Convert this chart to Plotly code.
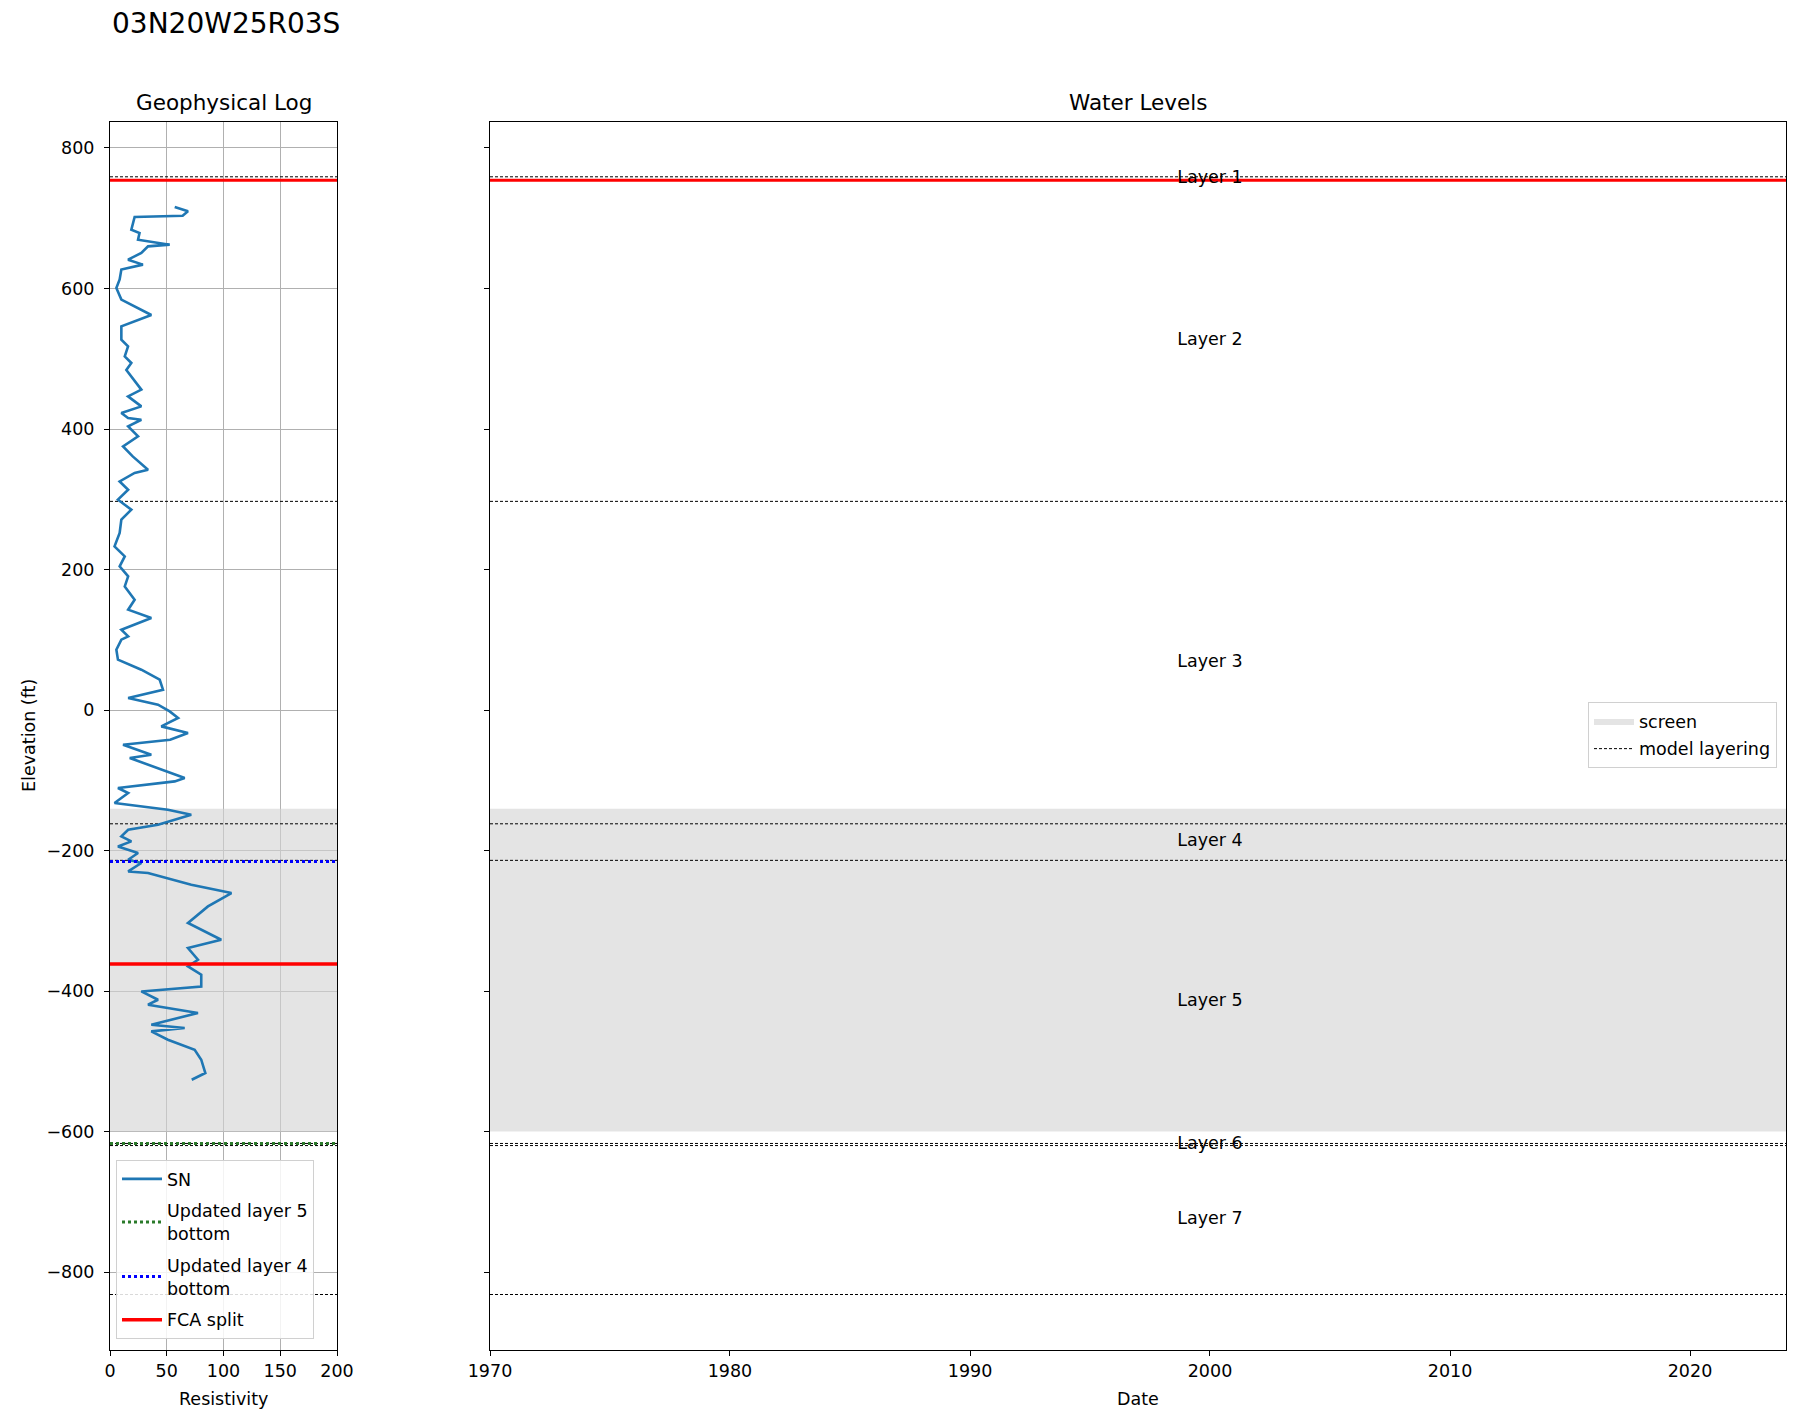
import plotly.graph_objects as go

# ---------------- data ----------------
well_name = "03N20W25R03S"

# SN resistivity log (elevation ft, resistivity)
sn_elev = [716.0, 709.8, 703.6, 701.8, 683.7, 679.0, 669.5, 662.4, 660.0, 650.5,
           641.0, 634.0, 627.0, 612.8, 600.7, 584.2, 562.3, 546.1, 527.2, 517.6,
           503.4, 494.0, 484.0, 456.0, 446.4, 432.2, 422.8, 415.7,
           413.2, 403.7, 389.5, 375.2, 361.0, 342.1, 337.4, 325.4, 313.6, 299.4,
           285.2, 270.9, 252.0, 232.9, 218.6, 204.4, 190.2, 175.9, 157.0, 142.8,
           131.0, 114.3, 104.8,
           100.1, 85.8, 71.6, 57.4, 43.1, 28.9, 17.1, 7.5, -2.0, -11.4, -23.3,
           -32.7, -42.3, -49.4, -63.6, -68.3, -82.6, -92.1, -96.8, -101.6, -111.0,
           -118.1, -132.4, -141.9, -149.0, -163.3, -170.4, -179.9, -187.0, -194.2,
           -203.6, -213.1,
           -217.8, -229.8, -232.0, -248.7, -260.5, -279.6, -303.2, -327.0, -338.8,
           -355.5, -365.0, -376.8, -393.5, -400.6, -412.4, -419.5, -431.3, -448.0,
           -452.7, -457.5, -469.3, -483.6, -497.8, -516.7, -523.4, -526.3]
sn_res = [57, 68.7, 64, 21.7, 18.8, 26, 24.7, 52.6, 33.5, 27.6,
          15.9, 29, 10, 8.5, 5.6, 10, 36.4, 10, 10, 15.9,
          13, 18.8, 14.4, 27.6, 15.9, 27.6, 10, 15.9,
          27.6, 16, 24.7, 11.5, 20, 33.5, 21.7, 8.5, 16, 7,
          18.8, 10, 8.5, 4, 13, 8.5, 16, 13, 21.7, 16,
          36.4, 10, 16,
          10, 5.6, 7, 27.6, 43.8, 46.7, 16, 42.3, 52.6, 60, 45.2,
          68.7, 53, 11.5, 36.4, 17.4, 42.3, 57, 65.8, 57, 7,
          16, 4, 51, 71.6, 42.3, 16, 10, 18.8, 7,
          24.7, 16,
          27.6, 16, 33.5, 71.6, 107, 86.3, 68.7, 98, 68.7,
          77.5, 68.7, 80.4, 80.4, 27.6, 42.3, 33.5, 77.5, 36.4,
          65.8, 36.4, 51, 74.6, 80.4, 84, 75, 72]

# model layer surfaces (elevation, ft)
layer_surfaces = [759, 755, 297, -162, -214, -617, -620, -832]
layer_names = ["Layer 1", "Layer 2", "Layer 3", "Layer 4", "Layer 5", "Layer 6", "Layer 7"]

screen_top = -140.5
screen_bottom = -600.0

updated_layer4_bottom = -215.5
updated_layer5_bottom = -617.0
fca_split = -361.6
top_red = 754.0

res_range = [0, 200]
res_ticks = [0, 50, 100, 150, 200]
date_start = "1970-01-01"
date_end = "2024-01-01"
label_date = "2000-01-01"
elev_range = [-911, 837]
elev_ticks = [-800, -600, -400, -200, 0, 200, 400, 600, 800]

# ---------------- layout geometry (pixels in the screenshot) ----------------
OFF = 8                      # default page body margin
W, H = 1795 - OFF, 1416 - OFF
PL, PR, PT, PB = 110, 1786, 122, 1350          # overall plot area (screen px)
PW, PH = PR - PL, PB - PT
LEFT_X1 = 337
RIGHT_X0 = 490

def px(xp):
    return (xp - PL) / PW

def py(yp):
    return 1 - (yp - PT) / PH

FONT = "DejaVu Sans"
FS = 17.5
fig = go.Figure()

def hlines(xa, xb, ys):
    xs, yy = [], []
    for y in ys:
        xs += [xa, xb, None]
        yy += [y, y, None]
    return xs, yy

# --- left panel ---
fig.add_trace(go.Scatter(
    x=[res_range[0], res_range[1], res_range[1], res_range[0], res_range[0]],
    y=[screen_top, screen_top, screen_bottom, screen_bottom, screen_top],
    fill="toself", fillcolor="rgba(211,211,211,0.62)", line=dict(width=0),
    mode="lines", showlegend=False, hoverinfo="skip", xaxis="x", yaxis="y"))
mx, my = hlines(res_range[0], res_range[1], layer_surfaces)
fig.add_trace(go.Scatter(x=mx, y=my, mode="lines",
                         line=dict(color="black", width=1, dash="3px,2px"),
                         showlegend=False, xaxis="x", yaxis="y"))
fig.add_trace(go.Scatter(x=sn_res, y=sn_elev, mode="lines", name="SN",
                         line=dict(color="#1f77b4", width=2.6), legendgroup="g1",
                         legend="legend", xaxis="x", yaxis="y"))
fig.add_trace(go.Scatter(x=res_range, y=[updated_layer5_bottom] * 2, mode="lines",
                         name="Updated layer 5<br>bottom", legendgroup="g2",
                         line=dict(color="#2a7a2a", width=3, dash="dot"),
                         legend="legend", xaxis="x", yaxis="y"))
fig.add_trace(go.Scatter(x=res_range, y=[updated_layer4_bottom] * 2, mode="lines",
                         name="Updated layer 4<br>bottom", legendgroup="g3",
                         line=dict(color="#0000ff", width=3, dash="dot"),
                         legend="legend", xaxis="x", yaxis="y"))
fig.add_trace(go.Scatter(x=res_range, y=[fca_split] * 2, mode="lines", name="FCA split",
                         line=dict(color="#ff0000", width=3.5), legendgroup="g4",
                         legend="legend", xaxis="x", yaxis="y"))
fig.add_trace(go.Scatter(x=res_range, y=[top_red] * 2, mode="lines",
                         line=dict(color="#ff0000", width=3), showlegend=False,
                         xaxis="x", yaxis="y"))

# --- right panel ---
fig.add_trace(go.Scatter(
    x=[date_start, date_end, date_end, date_start, date_start],
    y=[screen_top, screen_top, screen_bottom, screen_bottom, screen_top],
    fill="toself", fillcolor="rgba(211,211,211,0.62)", line=dict(width=0),
    mode="lines", name="screen", legend="legend2", hoverinfo="skip", legendgroup="h1",
    xaxis="x2", yaxis="y2"))
mx2, my2 = hlines(date_start, date_end, layer_surfaces)
fig.add_trace(go.Scatter(x=mx2, y=my2, mode="lines", name="model layering",
                         line=dict(color="black", width=1, dash="3px,2px"), legendgroup="h2",
                         legend="legend2", xaxis="x2", yaxis="y2"))
fig.add_trace(go.Scatter(x=[date_start, date_end], y=[top_red] * 2, mode="lines",
                         line=dict(color="#ff0000", width=3), showlegend=False,
                         xaxis="x2", yaxis="y2"))
label_y = [(layer_surfaces[i] + layer_surfaces[i + 1]) / 2 for i in range(len(layer_names))]
fig.add_trace(go.Scatter(x=[label_date] * len(layer_names), y=label_y, mode="text",
                         text=layer_names, textposition="middle center",
                         textfont=dict(family=FONT, size=FS, color="black"),
                         showlegend=False, xaxis="x2", yaxis="y2"))

axis_common = dict(showline=True, mirror=True, linecolor="black", linewidth=1,
                   ticks="outside", ticklen=5, tickcolor="black", automargin=False,
                   tickfont=dict(family=FONT, size=FS, color="black"), zeroline=False)

fig.update_layout(
    width=W, height=H,
    margin=dict(l=PL - OFF, r=W - (PR - OFF), t=PT - OFF, b=H - (PB - OFF), autoexpand=False),
    paper_bgcolor="white", plot_bgcolor="white",
    font=dict(family=FONT, size=FS, color="black"),
    xaxis=dict(domain=[0, px(LEFT_X1)], range=res_range, tickvals=res_ticks,
               showgrid=True, gridcolor="#b0b0b0", gridwidth=1, anchor="y", **axis_common),
    yaxis=dict(domain=[0, 1], range=elev_range, tickvals=elev_ticks, ticklabelstandoff=6,
               showgrid=True, gridcolor="#b0b0b0", gridwidth=1, anchor="x", **axis_common),
    xaxis2=dict(domain=[px(RIGHT_X0), 1], type="date", range=[date_start, date_end],
                tick0=date_start, dtick="M120", tickformat="%Y", showgrid=False,
                anchor="y2", **axis_common),
    yaxis2=dict(domain=[0, 1], range=elev_range, tickvals=elev_ticks, matches="y",
                showticklabels=False, showgrid=False, anchor="x2", **axis_common),
    legend=dict(x=px(116), y=py(1339), xanchor="left", yanchor="bottom",
                bgcolor="rgba(255,255,255,0.85)", bordercolor="#d0d0d0", borderwidth=1,
                itemwidth=40, tracegroupgap=6,
                font=dict(family=FONT, size=FS, color="black")),
    legend2=dict(x=px(1777), y=py(702), xanchor="right", yanchor="top",
                 bgcolor="rgba(255,255,255,0.85)", bordercolor="#d0d0d0", borderwidth=1,
                 itemwidth=40, tracegroupgap=2,
                 font=dict(family=FONT, size=FS, color="black")),
    showlegend=True,
)

annotations = [
    dict(text=well_name, x=px(226), y=py(24), xref="paper", yref="paper",
         xanchor="center", yanchor="middle", showarrow=False,
         font=dict(family=FONT, size=28, color="black")),
    dict(text="Geophysical Log", x=px((PL + LEFT_X1) / 2), y=py(102), xref="paper", yref="paper",
         xanchor="center", yanchor="middle", showarrow=False,
         font=dict(family=FONT, size=21.5, color="black")),
    dict(text="Water Levels", x=px((RIGHT_X0 + PR) / 2), y=py(102), xref="paper", yref="paper",
         xanchor="center", yanchor="middle", showarrow=False,
         font=dict(family=FONT, size=21.5, color="black")),
    dict(text="Elevation (ft)", x=px(29), y=py(736), xref="paper", yref="paper",
         xanchor="center", yanchor="middle", showarrow=False, textangle=-90,
         font=dict(family=FONT, size=FS, color="black")),
    dict(text="Resistivity", x=px((PL + LEFT_X1) / 2), y=py(1399), xref="paper", yref="paper",
         xanchor="center", yanchor="middle", showarrow=False,
         font=dict(family=FONT, size=FS, color="black")),
    dict(text="Date", x=px((RIGHT_X0 + PR) / 2), y=py(1399), xref="paper", yref="paper",
         xanchor="center", yanchor="middle", showarrow=False,
         font=dict(family=FONT, size=FS, color="black")),
]
fig.update_layout(annotations=annotations)

fig.write_html("out.html")
